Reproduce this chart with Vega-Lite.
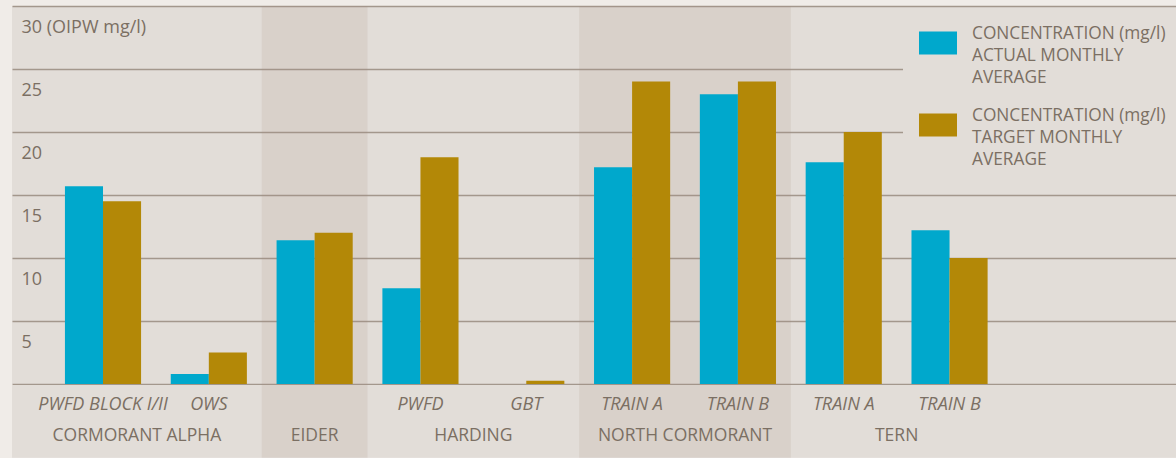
{
  "$schema": "https://vega.github.io/schema/vega-lite/v6.json",
  "width": 1164,
  "height": 378,
  "padding": {"left": 12, "top": 6, "right": 0, "bottom": 0},
  "background": "#f0ece8",
  "config": {
    "view": {"fill": "#e2ddd8", "stroke": null},
    "font": "Open Sans",
    "axis": {"labelFont": "Open Sans"},
    "legend": {"labelFont": "Open Sans"}
  },
  "datasets": {
    "bars": [
      {"slot": "CA PWFD BLOCK I/II", "series": "actual", "value": 15.7},
      {"slot": "CA PWFD BLOCK I/II", "series": "target", "value": 14.5},
      {"slot": "CA OWS", "series": "actual", "value": 0.8},
      {"slot": "CA OWS", "series": "target", "value": 2.5},
      {"slot": "EIDER", "series": "actual", "value": 11.4},
      {"slot": "EIDER", "series": "target", "value": 12.0},
      {"slot": "HARDING PWFD", "series": "actual", "value": 7.6},
      {"slot": "HARDING PWFD", "series": "target", "value": 18.0},
      {"slot": "HARDING GBT", "series": "actual", "value": 0},
      {"slot": "HARDING GBT", "series": "target", "value": 0.25},
      {"slot": "NC TRAIN A", "series": "actual", "value": 17.2},
      {"slot": "NC TRAIN A", "series": "target", "value": 24.0},
      {"slot": "NC TRAIN B", "series": "actual", "value": 23.0},
      {"slot": "NC TRAIN B", "series": "target", "value": 24.0},
      {"slot": "TERN TRAIN A", "series": "actual", "value": 17.6},
      {"slot": "TERN TRAIN A", "series": "target", "value": 20.0},
      {"slot": "TERN TRAIN B", "series": "actual", "value": 12.2},
      {"slot": "TERN TRAIN B", "series": "target", "value": 10.0}
    ],
    "slots": [
      {"slot": "CA PWFD BLOCK I/II", "sub": "PWFD BLOCK I/II", "shade": false},
      {"slot": "CA OWS", "sub": "OWS", "shade": false},
      {"slot": "EIDER", "sub": "", "shade": true},
      {"slot": "HARDING PWFD", "sub": "PWFD", "shade": false},
      {"slot": "HARDING GBT", "sub": "GBT", "shade": false},
      {"slot": "NC TRAIN A", "sub": "TRAIN A", "shade": true},
      {"slot": "NC TRAIN B", "sub": "TRAIN B", "shade": true},
      {"slot": "TERN TRAIN A", "sub": "TRAIN A", "shade": false},
      {"slot": "TERN TRAIN B", "sub": "TRAIN B", "shade": false}
    ],
    "groups": [
      {"group": "CORMORANT ALPHA", "slot": "CA PWFD BLOCK I/II"},
      {"group": "EIDER", "slot": "EIDER"},
      {"group": "HARDING", "slot": "HARDING GBT"},
      {"group": "NORTH CORMORANT", "slot": "NC TRAIN B"},
      {"group": "TERN", "slot": "TERN TRAIN B"}
    ]
  },
  "layer": [
    {
      "description": "panel fill continuing below the plot behind the category labels",
      "data": {"values": [{}]},
      "mark": {"type": "rect", "color": "#e2ddd8", "yOffset": 1},
      "encoding": {
        "x": {"value": 0},
        "x2": {"value": "width"},
        "y": {"datum": 0, "type": "quantitative", "scale": {"domain": [0, 30], "nice": false}},
        "y2": {"datum": -5.85}
      }
    },
    {
      "description": "shaded columns for alternate platforms",
      "data": {"name": "slots"},
      "transform": [{"filter": "datum.shade"}],
      "mark": {"type": "rect", "color": "rgb(166,141,129)", "opacity": 0.15},
      "encoding": {
        "x": {
          "field": "slot", "type": "nominal", "axis": null,
          "scale": {"type": "band", "paddingInner": 0, "paddingOuter": 1, "align": 0.18,
            "domain": ["CA PWFD BLOCK I/II", "CA OWS", "EIDER", "HARDING PWFD", "HARDING GBT", "NC TRAIN A", "NC TRAIN B", "TERN TRAIN A", "TERN TRAIN B"]}
        },
        "y": {"datum": 30, "type": "quantitative", "scale": {"domain": [0, 30], "nice": false}},
        "y2": {"datum": -5.85}
      }
    },
    {
      "data": {"name": "bars"},
      "mark": {"type": "bar"},
      "encoding": {
        "x": {
          "field": "slot", "type": "nominal", "axis": null,
          "scale": {"type": "band", "paddingInner": 0, "paddingOuter": 1, "align": 0.18,
            "domain": ["CA PWFD BLOCK I/II", "CA OWS", "EIDER", "HARDING PWFD", "HARDING GBT", "NC TRAIN A", "NC TRAIN B", "TERN TRAIN A", "TERN TRAIN B"]}
        },
        "xOffset": {
          "field": "series", "type": "nominal",
          "scale": {"domain": ["actual", "target"], "paddingInner": 0, "paddingOuter": 0.39}
        },
        "y": {
          "field": "value", "type": "quantitative",
          "scale": {"domain": [0, 30], "nice": false},
          "axis": {
            "title": null,
            "values": [0, 5, 10, 15, 20, 25, 30],
            "grid": true,
            "gridColor": "#a3978c",
            "gridWidth": 1.3,
            "domain": false,
            "ticks": false,
            "labelAlign": "left",
            "labelBaseline": "middle",
            "labelPadding": -9,
            "labelOffset": 21,
            "labelFlush": false,
            "labelOverlap": false,
            "labelFontSize": 18,
            "labelColor": "#7b6f63",
            "labelExpr": "datum.value == 30 ? '30 (OIPW mg/l)' : datum.value == 0 ? '' : datum.label"
          }
        },
        "color": {
          "field": "series", "type": "nominal",
          "scale": {"domain": ["actual", "target"], "range": ["#00a8cc", "#b38807"]},
          "legend": {
            "title": null,
            "orient": "none",
            "legendX": 891,
            "legendY": 2,
            "fillColor": "#e2ddd8",
            "padding": 16,
            "rowPadding": 19,
            "symbolType": "M-1,-0.6H1V0.6H-1Z",
            "symbolSize": 1444,
            "symbolStrokeWidth": 0,
            "symbolOpacity": 1,
            "labelOffset": 15,
            "labelLimit": 400,
            "labelFontSize": 17.3,
            "labelColor": "#7b6f63",
            "labelExpr": "datum.value == 'actual' ? ['CONCENTRATION (mg/l)', 'ACTUAL MONTHLY', 'AVERAGE'] : ['CONCENTRATION (mg/l)', 'TARGET MONTHLY', 'AVERAGE']",
            "encode": {"labels": {"update": {"lineHeight": {"value": 22}, "dy": {"value": -9}}}}
          }
        }
      }
    },
    {
      "description": "installation names under each pair of bars",
      "data": {"name": "slots"},
      "transform": [{"filter": "datum.sub != ''"}],
      "mark": {"type": "text", "fontStyle": "italic", "fontSize": 18, "color": "#7b6f63", "baseline": "alphabetic", "align": "center"},
      "encoding": {
        "x": {
          "field": "slot", "type": "nominal", "axis": null,
          "scale": {"type": "band", "paddingInner": 0, "paddingOuter": 1, "align": 0.18,
            "domain": ["CA PWFD BLOCK I/II", "CA OWS", "EIDER", "HARDING PWFD", "HARDING GBT", "NC TRAIN A", "NC TRAIN B", "TERN TRAIN A", "TERN TRAIN B"]}
        },
        "y": {"datum": -2.04, "type": "quantitative", "scale": {"domain": [0, 30], "nice": false}},
        "text": {"field": "sub"}
      }
    },
    {
      "description": "platform names centred on their columns",
      "data": {"name": "groups"},
      "transform": [{"filter": "datum.group != 'CORMORANT ALPHA' && datum.group != 'EIDER'"}],
      "mark": {"type": "text", "fontSize": 17.5, "color": "#7b6f63", "baseline": "alphabetic", "align": "center"},
      "encoding": {
        "x": {
          "field": "slot", "type": "nominal", "axis": null, "bandPosition": 0,
          "scale": {"type": "band", "paddingInner": 0, "paddingOuter": 1, "align": 0.18,
            "domain": ["CA PWFD BLOCK I/II", "CA OWS", "EIDER", "HARDING PWFD", "HARDING GBT", "NC TRAIN A", "NC TRAIN B", "TERN TRAIN A", "TERN TRAIN B"]}
        },
        "y": {"datum": -4.5, "type": "quantitative", "scale": {"domain": [0, 30], "nice": false}},
        "text": {"field": "group"}
      }
    },
    {
      "data": {"name": "groups"},
      "transform": [{"filter": "datum.group == 'EIDER'"}],
      "mark": {"type": "text", "fontSize": 17.5, "color": "#7b6f63", "baseline": "alphabetic", "align": "center"},
      "encoding": {
        "x": {
          "field": "slot", "type": "nominal", "axis": null, "bandPosition": 0.5,
          "scale": {"type": "band", "paddingInner": 0, "paddingOuter": 1, "align": 0.18,
            "domain": ["CA PWFD BLOCK I/II", "CA OWS", "EIDER", "HARDING PWFD", "HARDING GBT", "NC TRAIN A", "NC TRAIN B", "TERN TRAIN A", "TERN TRAIN B"]}
        },
        "y": {"datum": -4.5, "type": "quantitative", "scale": {"domain": [0, 30], "nice": false}},
        "text": {"field": "group"}
      }
    },
    {
      "data": {"name": "groups"},
      "transform": [{"filter": "datum.group == 'CORMORANT ALPHA'"}],
      "mark": {"type": "text", "fontSize": 17.5, "color": "#7b6f63", "baseline": "alphabetic", "align": "center"},
      "encoding": {
        "x": {
          "field": "slot", "type": "nominal", "axis": null, "bandPosition": 0.82,
          "scale": {"type": "band", "paddingInner": 0, "paddingOuter": 1, "align": 0.18,
            "domain": ["CA PWFD BLOCK I/II", "CA OWS", "EIDER", "HARDING PWFD", "HARDING GBT", "NC TRAIN A", "NC TRAIN B", "TERN TRAIN A", "TERN TRAIN B"]}
        },
        "y": {"datum": -4.5, "type": "quantitative", "scale": {"domain": [0, 30], "nice": false}},
        "text": {"field": "group"}
      }
    }
  ]
}
